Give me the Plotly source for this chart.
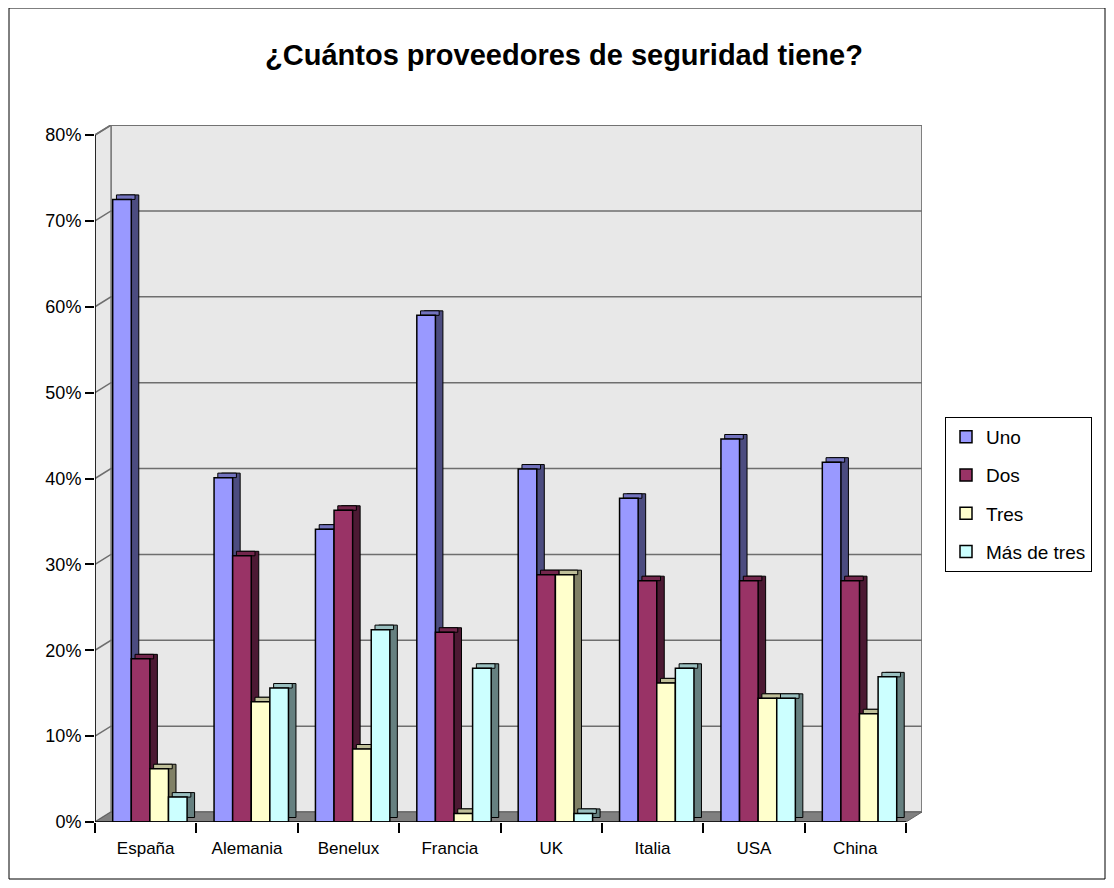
import plotly.graph_objects as go

# ---------------- data ----------------
categories = ["España", "Alemania", "Benelux", "Francia", "UK", "Italia", "USA", "China"]
uno = [72.5, 40.1, 34.1, 59.0, 41.1, 37.7, 44.6, 41.9]
dos = [19.0, 31.0, 36.3, 22.1, 28.8, 28.1, 28.1, 28.1]
tres = [6.2, 14.0, 8.5, 1.0, 28.8, 16.2, 14.4, 12.6]
mas_de_tres = [2.9, 15.6, 22.4, 17.9, 1.0, 17.9, 14.4, 16.9]
series_names = ["Uno", "Dos", "Tres", "Más de tres"]
y_ticks = [0, 10, 20, 30, 40, 50, 60, 70, 80]

series_values = [uno, dos, tres, mas_de_tres]
front_colors = ["#9999FF", "#993366", "#FFFFCC", "#CCFFFF"]
side_colors = ["#4C4C80", "#4C1933", "#808066", "#668080"]
top_colors = ["#7373BF", "#73264C", "#BFBF99", "#99BFBF"]

# ---------------- geometry (pixel layout, page coords minus body margin) ----------------
M = 8                                        # browser body margin
W, H = 1114 - 2 * M, 888 - 2 * M
PL, PR, PT, PB = 95 - M, 922 - M, 125 - M, 822 - M
n = len(categories)
cat_px = (PR - PL) / (n + 16 / 101.4)
wall_dx = 16 / cat_px
px_per_pct = (822 - 135) / 80.0
wall_dy = 10 / px_per_pct
y_max = (PB - PT) / px_per_pct
x0, x1 = -0.5, n - 0.5 + wall_dx

bar_w = 18.6 / cat_px
first_off = -33.0 / cat_px
bar_dx = 7.5 / cat_px
bar_dy = 4.5 / px_per_pct

fig = go.Figure()

# side and top faces
for i, vals in enumerate(series_values):
    off = first_off + i * bar_w
    fig.add_trace(go.Bar(
        x=categories, y=vals, base=bar_dy, offset=off + bar_dx, width=bar_w,
        marker=dict(color=side_colors[i], line=dict(color="black", width=1)),
        showlegend=False, hoverinfo="skip"))
    fig.add_trace(go.Bar(
        x=categories, y=[bar_dy] * n, base=vals, offset=off + bar_dx / 2, width=bar_w,
        marker=dict(color=top_colors[i], line=dict(color="black", width=1)),
        showlegend=False, hoverinfo="skip"))

# front faces
for i, vals in enumerate(series_values):
    off = first_off + i * bar_w
    fig.add_trace(go.Bar(
        x=categories, y=vals, offset=off, width=bar_w, name=series_names[i],
        legendgroup=series_names[i],
        marker=dict(color=front_colors[i], line=dict(color="black", width=1.5))))

shapes = []
shapes.append(dict(type="rect", xref="x", yref="y", x0=x0 + wall_dx, x1=x1,
                   y0=wall_dy, y1=y_max, fillcolor="#E8E8E8",
                   line=dict(color="#808080", width=2), layer="below"))
shapes.append(dict(type="path", xref="x", yref="y",
                   path=f"M {x0} 0 L {x0} 80 L {x0 + wall_dx} {80 + wall_dy} L {x0 + wall_dx} {wall_dy} Z",
                   fillcolor="#E8E8E8", line=dict(color="#808080", width=1.5), layer="below"))
shapes.append(dict(type="path", xref="x", yref="y",
                   path=f"M {x0} 0 L {n - 0.5} 0 L {n - 0.5 + wall_dx} {wall_dy} L {x0 + wall_dx} {wall_dy} Z",
                   fillcolor="#808080", line=dict(color="#606060", width=1), layer="below"))
for t in y_ticks[1:]:
    shapes.append(dict(type="path", xref="x", yref="y",
                       path=f"M {x0} {t} L {x0 + wall_dx} {t + wall_dy} L {x1} {t + wall_dy}",
                       line=dict(color="#6E6E6E", width=1.5), layer="below"))
shapes.append(dict(type="line", xref="x", yref="y", x0=x0, x1=x0, y0=0, y1=80,
                   line=dict(color="black", width=1.5), layer="above"))
shapes.append(dict(type="line", xref="x", yref="y", x0=x0, x1=n - 0.5, y0=0, y1=0,
                   line=dict(color="black", width=1.5), layer="above"))
pw, ph = PR - PL, PB - PT
shapes.append(dict(type="rect", xref="paper", yref="paper",
                   x0=(9 - M - PL) / pw, x1=(W - 1 - PL) / pw,
                   y0=(PB - (H - 1)) / ph, y1=(PB - (7 - M + 1)) / ph,
                   line=dict(color="black", width=1), fillcolor="rgba(0,0,0,0)"))

fig.update_layout(
    width=W, height=H,
    margin=dict(l=PL, r=W - PR, t=PT, b=H - PB, pad=0),
    paper_bgcolor="white", plot_bgcolor="white",
    barmode="overlay",
    font=dict(family="Liberation Sans, Arial, sans-serif", color="black"),
    title=dict(text="<b>¿Cuántos proveedores de seguridad tiene?</b>",
               x=(564 - M) / W, xref="container", xanchor="center",
               y=1 - (55 - M) / H, yref="container", yanchor="middle",
               font=dict(size=29, color="black")),
    xaxis=dict(type="category", range=[x0, x1], showgrid=False, showline=False,
               zeroline=False, ticks="outside", tickson="boundaries", ticklen=10,
               tickcolor="black", tickwidth=1.5, tickfont=dict(size=17),
               ticklabelstandoff=14),
    yaxis=dict(range=[0, y_max], showgrid=False, showline=False, zeroline=False,
               tickvals=y_ticks, ticktext=[f"{t}%" for t in y_ticks],
               ticks="outside", ticklen=9, tickcolor="black", tickwidth=1.5,
               tickfont=dict(size=18)),
    legend=dict(x=(945 - 95) / pw, xanchor="left", y=(822 - 417) / ph, yanchor="top",
                bordercolor="black", borderwidth=1, bgcolor="white",
                font=dict(size=19), tracegroupgap=10.5, traceorder="grouped",
                entrywidth=124),
    shapes=shapes,
    showlegend=True,
)

fig.write_html("out.html")
